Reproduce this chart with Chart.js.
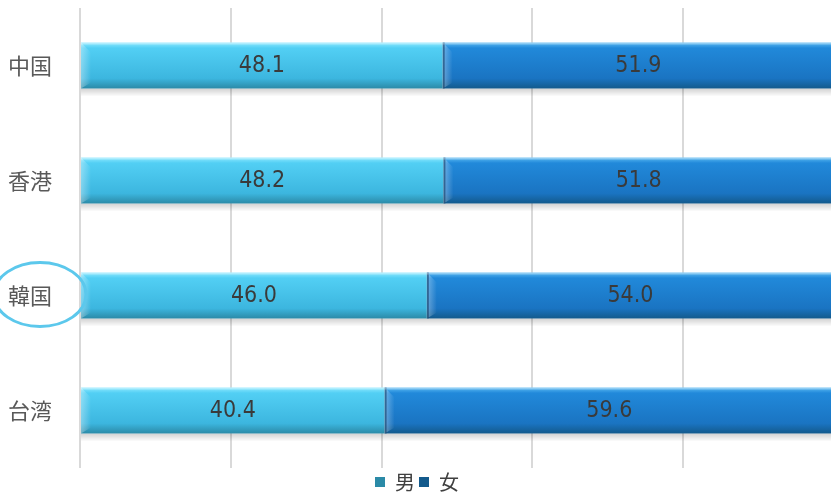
<!DOCTYPE html>
<html>
<head>
<meta charset="utf-8">
<script src="https://cdn.jsdelivr.net/npm/chart.js@4/dist/chart.umd.min.js"></script>
<style>
  html, body { margin: 0; padding: 0; overflow: hidden; background: #fff; }
  #wrap { width: 834px; height: 492px; }
</style>
</head>
<body>
<div id="wrap"><canvas id="myChart"></canvas></div>
<script>
// data
const categories = ['中国', '香港', '韓国', '台湾'];
const seriesNames = ['男', '女'];
const maleValues = [48.1, 48.2, 46.0, 40.4];
const femaleValues = [51.9, 51.8, 54.0, 59.6];
const xMin = 0, xMax = 100, xStep = 20;
const circled = '韓国';

const cjkFont = '"Noto Sans CJK JP", "Noto Sans", sans-serif';
const numFont = '"DejaVu Sans Condensed", "DejaVu Sans", sans-serif';

// top, middle, bottom colours of each series
const palette = [
    { top: '#8fe9ff', mid: '#52cff4', low: '#3cb6df', edge: '#2b8aa7', flat: '#45c4ec' },
    { top: '#5cbaf2', mid: '#2189da', low: '#1a74c2', edge: '#135a8c', flat: '#1b7cce' }
];

function barFill(ctx, p) {
    const chart = ctx.chart;
    if (ctx.dataIndex === undefined || !chart.chartArea || !chart.scales.y) return p.flat;
    const c = chart.scales.y.getPixelForValue(ctx.dataIndex);
    const half = (chart.chartArea.height / categories.length) * 0.4 / 2;
    const g = chart.ctx.createLinearGradient(0, c - half, 0, c + half);
    g.addColorStop(0, p.top);
    g.addColorStop(0.12, p.mid);
    g.addColorStop(0.78, p.low);
    g.addColorStop(1, p.edge);
    return g;
}

const bevelPlugin = {
    id: 'bevel',
    beforeDatasetsDraw(chart) {
        // soft shadow under each bar
        const c = chart.ctx;
        chart.getDatasetMeta(0).data.forEach((bar, i) => {
            const last = chart.getDatasetMeta(1).data[i];
            const bottom = bar.y + bar.height / 2;
            const g = c.createLinearGradient(0, bottom, 0, bottom + 8);
            g.addColorStop(0, 'rgba(0,0,0,0.18)');
            g.addColorStop(1, 'rgba(0,0,0,0)');
            c.save();
            c.fillStyle = g;
            c.fillRect(bar.base, bottom, last.x - bar.base, 8);
            c.restore();
        });
    },
    afterDatasetsDraw(chart) {
        const c = chart.ctx;
        c.save();
        chart.data.datasets.forEach((ds, di) => {
            chart.getDatasetMeta(di).data.forEach(bar => {
                const top = bar.y - bar.height / 2;
                const bottom = bar.y + bar.height / 2;
                const left = Math.min(bar.base, bar.x);
                const right = Math.max(bar.base, bar.x);
                // left bevel
                const lg = c.createLinearGradient(left, 0, left + 10, 0);
                lg.addColorStop(0, 'rgba(255,255,255,0.35)');
                lg.addColorStop(1, 'rgba(255,255,255,0)');
                c.fillStyle = lg;
                c.beginPath();
                c.moveTo(left, top);
                c.lineTo(left + 10, top + 10);
                c.lineTo(left + 10, bottom - 6);
                c.lineTo(left, bottom);
                c.closePath();
                c.fill();
                // dark seam at left side of second segment
                if (di > 0) {
                    c.fillStyle = 'rgba(10,50,90,0.55)';
                    c.fillRect(left, top, 2, bar.height);
                }
                // top highlight
                c.fillStyle = 'rgba(255,255,255,0.35)';
                c.fillRect(left, top, right - left, 2);
            });
        });
        c.restore();
    }
};

const labelPlugin = {
    id: 'valueLabels',
    afterDatasetsDraw(chart) {
        const c = chart.ctx;
        c.save();
        c.font = '23px ' + numFont;
        c.fillStyle = '#3a3a3a';
        c.textAlign = 'center';
        c.textBaseline = 'middle';
        chart.data.datasets.forEach((ds, di) => {
            chart.getDatasetMeta(di).data.forEach((bar, i) => {
                const pt = bar.getCenterPoint();
                c.fillText(ds.data[i].toFixed(1), pt.x, pt.y + 1);
            });
        });
        c.restore();
    }
};

const circlePlugin = {
    id: 'circleLabel',
    afterDraw(chart) {
        const y = chart.scales.y.getPixelForValue(categories.indexOf(circled));
        const c = chart.ctx;
        c.save();
        c.strokeStyle = '#5cc8ec';
        c.lineWidth = 3;
        c.beginPath();
        c.ellipse(40, y - 1, 46, 32, 0, 0, Math.PI * 2);
        c.stroke();
        c.restore();
    }
};

new Chart(document.getElementById('myChart').getContext('2d'), {
    type: 'bar',
    data: {
        labels: categories,
        datasets: [
            { label: seriesNames[0], data: maleValues, backgroundColor: ctx => barFill(ctx, palette[0]), borderWidth: 0 },
            { label: seriesNames[1], data: femaleValues, backgroundColor: ctx => barFill(ctx, palette[1]), borderWidth: 0 }
        ]
    },
    options: {
        indexAxis: 'y',
        responsive: true,
        maintainAspectRatio: false,
        animation: false,
        datasets: { bar: { categoryPercentage: 0.4, barPercentage: 1 } },
        layout: { padding: { top: 8, right: 0, left: 0, bottom: -10 } },
        scales: {
            x: {
                stacked: true,
                min: xMin,
                max: xMax,
                ticks: { display: false, stepSize: xStep },
                grid: { color: '#d9d9d9', lineWidth: 2, drawTicks: false },
                border: { display: false }
            },
            y: {
                stacked: true,
                grid: { display: false },
                border: { display: false },
                ticks: { color: '#595959', font: { size: 22, family: cjkFont }, padding: 20 },
                afterFit: scale => {
                    scale.width = 80;
                    scale.paddingTop = 0;
                    scale.paddingBottom = 0;
                }
            }
        },
        plugins: {
            legend: {
                position: 'bottom',
                labels: {
                    boxWidth: 10,
                    boxHeight: 10,
                    padding: 4,
                    color: '#404040',
                    font: { size: 20, family: cjkFont }
                }
            },
            tooltip: { enabled: false }
        }
    },
    plugins: [bevelPlugin, labelPlugin, circlePlugin]
});
</script>
</body>
</html>
